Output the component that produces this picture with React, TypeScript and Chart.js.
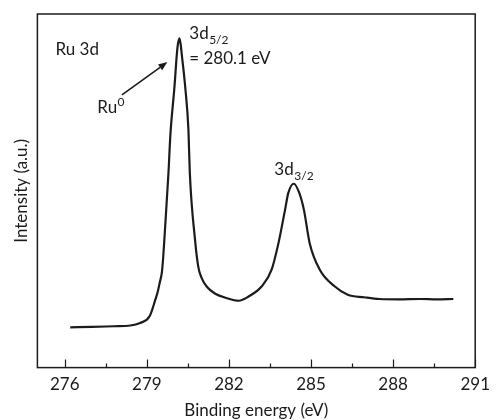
import React, { useEffect, useRef } from "react";
import { Chart, registerables } from "chart.js";

Chart.register(...registerables);

// Binding energy (eV)
const energy = [
  276.2, 277.0, 277.8, 278.4, 278.75, 279.1, 279.31, 279.4, 279.47, 279.55,
  279.6, 279.65, 279.79, 279.86, 280.01, 280.1, 280.13, 280.19, 280.24, 280.27,
  280.4, 280.52, 280.57, 280.76, 280.88, 281.0, 281.2, 281.5, 281.9, 282.36,
  282.72, 283.2, 283.56, 283.81, 284.05, 284.17, 284.37, 284.57, 284.74, 284.95,
  285.32, 285.86, 286.34, 286.94, 287.5, 288.2, 289.0, 289.6, 290.2,
];
// Intensity (a.u.)
const intensity = [
  11.4, 11.5, 11.7, 11.9, 12.6, 14.5, 19.2, 21.5, 24.0, 27.0,
  31.5, 37.5, 55.1, 65.8, 79.5, 89.0, 91.2, 93.1, 91.2, 89.0,
  79.5, 67.2, 55.1, 36.2, 28.5, 25.4, 22.8, 20.9, 19.7, 18.9,
  20.1, 23.0, 27.7, 35.2, 44.6, 49.4, 52.0, 49.4, 44.6, 35.2,
  27.7, 23.0, 20.6, 19.9, 19.4, 19.3, 19.4, 19.3, 19.4,
];
const majorTicks = [276, 279, 282, 285, 288, 291];
const minorTicks = [277.5, 280.5, 283.5, 286.5, 289.5];
const xTitle = "Binding energy (eV)";
const yTitle = "Intensity (a.u.)";
const xMin = 275;
const xMax = 291;
const yMin = 0;
const yMax = 100;

const FONT = "Lato, 'Open Sans', sans-serif";
const INK = "#1b1b1b";

type Part = { t: string; mode?: "sub" | "sup" };
type Note = { x: number; y: number; parts: Part[] };

// Annotations anchored in data coordinates
const notes: Note[] = [
  { x: 275.66, y: 88.4, parts: [{ t: "Ru 3d" }] },
  { x: 280.55, y: 92.8, parts: [{ t: "3d" }, { t: "5/2", mode: "sub" }] },
  { x: 280.55, y: 86.0, parts: [{ t: "= 280.1 eV" }] },
  { x: 277.19, y: 72.0, parts: [{ t: "Ru" }, { t: "0", mode: "sup" }] },
  { x: 283.66, y: 54.5, parts: [{ t: "3d" }, { t: "3/2", mode: "sub" }] },
];
const arrowFrom = [278.09, 77.1];
const arrowTo = [279.75, 86.4];

const framePlugin = {
  id: "frameAndNotes",
  afterDraw(chart: any) {
    const { ctx, chartArea: a, scales } = chart;
    const xs = scales.x;
    const ys = scales.y;
    ctx.save();
    ctx.strokeStyle = INK;
    ctx.lineWidth = 1.5;
    ctx.strokeRect(a.left, a.top, a.right - a.left, a.bottom - a.top);
    ctx.beginPath();
    majorTicks.forEach((v) => {
      const px = Math.round(xs.getPixelForValue(v)) + 0.5;
      ctx.moveTo(px, a.bottom);
      ctx.lineTo(px, a.bottom - 8);
    });
    minorTicks.forEach((v) => {
      const px = Math.round(xs.getPixelForValue(v)) + 0.5;
      ctx.moveTo(px, a.bottom);
      ctx.lineTo(px, a.bottom - 4);
    });
    ctx.lineWidth = 1.2;
    ctx.stroke();

    // text annotations
    ctx.fillStyle = INK;
    ctx.textBaseline = "alphabetic";
    ctx.textAlign = "left";
    notes.forEach((n) => {
      let px = xs.getPixelForValue(n.x);
      const py = ys.getPixelForValue(n.y);
      n.parts.forEach((p) => {
        let dy = 0;
        if (p.mode === "sub") {
          ctx.font = `12px ${FONT}`;
          dy = 5;
        } else if (p.mode === "sup") {
          ctx.font = `12px ${FONT}`;
          dy = -7;
        } else {
          ctx.font = `17px ${FONT}`;
        }
        ctx.fillText(p.t, px, py + dy);
        px += ctx.measureText(p.t).width + (p.mode ? 0 : 0.5);
      });
    });

    // arrow
    const x0 = xs.getPixelForValue(arrowFrom[0]);
    const y0 = ys.getPixelForValue(arrowFrom[1]);
    const x1 = xs.getPixelForValue(arrowTo[0]);
    const y1 = ys.getPixelForValue(arrowTo[1]);
    const ang = Math.atan2(y1 - y0, x1 - x0);
    const hl = 9;
    const hw = 3.5;
    const bx = x1 - hl * Math.cos(ang);
    const by = y1 - hl * Math.sin(ang);
    ctx.lineWidth = 1.6;
    ctx.beginPath();
    ctx.moveTo(x0, y0);
    ctx.lineTo(bx, by);
    ctx.stroke();
    ctx.beginPath();
    ctx.moveTo(x1, y1);
    ctx.lineTo(bx + hw * Math.sin(ang), by - hw * Math.cos(ang));
    ctx.lineTo(bx - hw * Math.sin(ang), by + hw * Math.cos(ang));
    ctx.closePath();
    ctx.fill();
    ctx.restore();
  },
};

export default function App() {
  const ref = useRef<HTMLCanvasElement | null>(null);
  useEffect(() => {
    if (!ref.current) return;
    const chart = new Chart(ref.current, {
      type: "line",
      data: {
        datasets: [
          {
            data: energy.map((e, i) => ({ x: e, y: intensity[i] })),
            borderColor: INK,
            borderWidth: 2.2,
            pointRadius: 0,
            fill: false,
            cubicInterpolationMode: "monotone",
          },
        ],
      },
      options: {
        animation: false,
        responsive: true,
        maintainAspectRatio: false,
        layout: { padding: { left: 7, right: 18, top: 14, bottom: 0 } },
        plugins: { legend: { display: false }, tooltip: { enabled: false } },
        scales: {
          x: {
            type: "linear",
            min: xMin,
            max: xMax,
            afterBuildTicks: (scale: any) => {
              scale.ticks = majorTicks.map((v) => ({ value: v }));
            },
            grid: { display: false, drawTicks: false },
            border: { display: false },
            ticks: {
              padding: 7,
              color: INK,
              font: { family: FONT, size: 17 },
              maxRotation: 0,
              autoSkip: false,
              callback: (v: any) => String(v),
            },
            title: {
              display: true,
              text: xTitle,
              color: INK,
              font: { family: FONT, size: 17, lineHeight: 1.0 },
              padding: { top: 0, bottom: 1 },
            },
          },
          y: {
            type: "linear",
            min: yMin,
            max: yMax,
            grid: { display: false, drawTicks: false },
            border: { display: false },
            ticks: { display: false },
            title: {
              display: true,
              text: yTitle,
              color: INK,
              font: { family: FONT, size: 17 },
              padding: { top: 4, bottom: 6 },
            },
          },
        },
      },
      plugins: [framePlugin],
    } as any);
    return () => chart.destroy();
  }, []);
  return (
    <div style={{ position: "fixed", left: 0, top: 0, width: 497, height: 420, background: "#fff" }}>
      <canvas ref={ref} />
    </div>
  );
}
